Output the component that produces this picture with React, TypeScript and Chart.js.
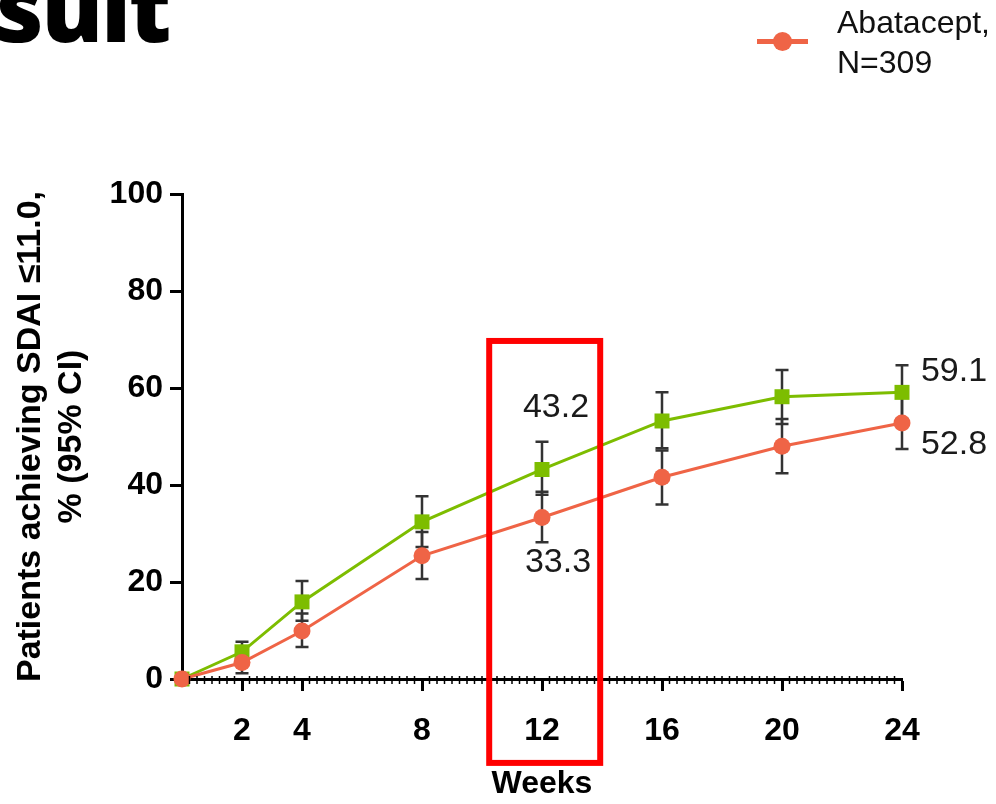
import React, { useEffect, useRef } from 'react';
import { Chart, registerables } from 'chart.js';

Chart.register(...registerables);

// ---------- data ----------
const weeks = [0, 2, 4, 8, 12, 16, 20, 24];

const abataceptPct = [0, 3.4, 9.9, 25.4, 33.3, 41.6, 48.0, 52.8];
const abataceptLow = [0, 1.2, 6.6, 20.6, 28.2, 36.0, 42.4, 47.4];
const abataceptHigh = [0, 5.6, 13.5, 30.3, 38.6, 47.1, 53.6, 58.2];

const comparatorPct = [0, 5.6, 15.9, 32.4, 43.2, 53.2, 58.2, 59.1];
const comparatorLow = [0, 3.5, 12.0, 27.2, 38.0, 47.6, 52.6, 53.6];
const comparatorHigh = [0, 7.7, 20.2, 37.7, 48.9, 59.1, 63.7, 64.7];

const xTickWeeks = [2, 4, 8, 12, 16, 20, 24];
const yTickValues = [0, 20, 40, 60, 80, 100];

const yTitleLines = ['Patients achieving SDAI \u226411.0,', '% (95% CI)'];
const xTitle = 'Weeks';
const legendLines = ['Abatacept,', 'N=309'];
const titleText = 'sult';

// highlighted region (weeks / percent units)
const highlightWeeks = [10.24, 13.94];
const highlightPct = [-17.3, 69.7];

// ---------- style ----------
const FONT = '"Liberation Sans", Arial, Helvetica, sans-serif';
const ORANGE = '#ef6446';
const GREEN = '#7dbd00';
const ERR = '#333333';

const labelSpecs = [
  { ds: 1, idx: 4, dx: 14, dy: -62 },
  { ds: 0, idx: 4, dx: 16, dy: 45 },
  { ds: 1, idx: 7, dx: 52, dy: -21 },
  { ds: 0, idx: 7, dx: 52, dy: 22 },
];

const errorBarPlugin = {
  id: 'errorBars',
  beforeDatasetsDraw(chart: any) {
    const { ctx, scales } = chart;
    const x = scales.x;
    const y = scales.y;
    const cap = 6.5;
    ctx.save();
    ctx.strokeStyle = ERR;
    ctx.lineWidth = 2.5;
    const sets = [
      { low: comparatorLow, high: comparatorHigh },
      { low: abataceptLow, high: abataceptHigh },
    ];
    sets.forEach(({ low, high }) => {
      weeks.forEach((w, i) => {
        if (high[i] === low[i]) return;
        const px = x.getPixelForValue(w);
        const yl = y.getPixelForValue(low[i]);
        const yh = y.getPixelForValue(high[i]);
        ctx.beginPath();
        ctx.moveTo(px, yl);
        ctx.lineTo(px, yh);
        ctx.moveTo(px - cap, yl);
        ctx.lineTo(px + cap, yl);
        ctx.moveTo(px - cap, yh);
        ctx.lineTo(px + cap, yh);
        ctx.stroke();
      });
    });
    ctx.restore();
  },
};

const annotationPlugin = {
  id: 'annotations',
  afterDraw(chart: any) {
    const { ctx, scales, chartArea } = chart;
    const x = scales.x;
    const y = scales.y;
    ctx.save();
    // minor ticks on x axis every quarter week
    ctx.strokeStyle = '#000';
    ctx.lineWidth = 1.5;
    ctx.beginPath();
    for (let q = 1; q < 96; q++) {
      const w = q / 4;
      if (xTickWeeks.includes(w)) continue;
      const px = x.getPixelForValue(w);
      ctx.moveTo(px, chartArea.bottom - 3);
      ctx.lineTo(px, chartArea.bottom + 5);
    }
    ctx.stroke();

    // value labels
    ctx.fillStyle = '#1a1a1a';
    ctx.font = `34px ${FONT}`;
    ctx.textAlign = 'center';
    ctx.textBaseline = 'middle';
    labelSpecs.forEach((s) => {
      const meta = chart.getDatasetMeta(s.ds);
      const pt = meta.data[s.idx];
      const v = chart.data.datasets[s.ds].data[s.idx].y;
      ctx.fillText(v.toFixed(1), pt.x + s.dx, pt.y + s.dy);
    });

    // highlight box
    const x0 = x.getPixelForValue(highlightWeeks[0]);
    const x1 = x.getPixelForValue(highlightWeeks[1]);
    const y0 = y.getPixelForValue(highlightPct[1]);
    const y1 = y.getPixelForValue(highlightPct[0]);
    ctx.strokeStyle = '#ff0000';
    ctx.lineWidth = 6;
    ctx.strokeRect(x0, y0, x1 - x0, y1 - y0);
    ctx.restore();
  },
};

export default function App() {
  const ref = useRef<HTMLCanvasElement>(null);

  useEffect(() => {
    const canvas = ref.current;
    if (!canvas) return;
    const chart = new Chart(canvas, {
      type: 'line',
      data: {
        datasets: [
          {
            label: 'Abatacept, N=309',
            data: weeks.map((w, i) => ({ x: w, y: abataceptPct[i] })),
            borderColor: ORANGE,
            backgroundColor: ORANGE,
            borderWidth: 3,
            pointStyle: 'circle',
            pointRadius: 8.5,
            pointBorderWidth: 0,
            pointBackgroundColor: ORANGE,
            clip: false as any,
          },
          {
            label: 'Comparator',
            data: weeks.map((w, i) => ({ x: w, y: comparatorPct[i] })),
            borderColor: GREEN,
            backgroundColor: GREEN,
            borderWidth: 3,
            pointStyle: 'rect',
            pointRadius: 10.6,
            pointBorderWidth: 0,
            pointBackgroundColor: GREEN,
            clip: false as any,
          },
        ],
      },
      options: {
        responsive: false,
        animation: false,
        devicePixelRatio: 1,
        layout: { padding: { left: 0, top: 194, right: 94, bottom: 0 } },
        plugins: {
          legend: { display: false },
          tooltip: { enabled: false },
        },
        scales: {
          x: {
            type: 'linear',
            min: 0,
            max: 24,
            afterBuildTicks: (axis: any) => {
              axis.ticks = xTickWeeks.map((v) => ({ value: v }));
            },
            afterFit: (axis: any) => {
              axis.height = 125;
            },
            ticks: {
              autoSkip: false,
              maxRotation: 0,
              padding: 21,
              color: '#000',
              font: { family: FONT, size: 32, weight: 'bold', lineHeight: 1.2 },
              callback: (v: any) => String(v),
            },
            grid: {
              display: true,
              drawOnChartArea: false,
              drawTicks: true,
              tickLength: 12,
              tickWidth: 3,
              tickColor: '#000',
            },
            border: { display: true, color: '#000', width: 3 },
            title: {
              display: true,
              text: xTitle,
              color: '#000',
              font: { family: FONT, size: 32, weight: 'bold', lineHeight: 1.2 },
              padding: { top: 0, bottom: 1 },
            },
          },
          y: {
            type: 'linear',
            min: 0,
            max: 100,
            afterBuildTicks: (axis: any) => {
              axis.ticks = yTickValues.map((v) => ({ value: v }));
            },
            afterFit: (axis: any) => {
              axis.width = 182;
            },
            ticks: {
              padding: 7,
              color: '#000',
              font: { family: FONT, size: 32, weight: 'bold', lineHeight: 1.2 },
            },
            grid: {
              display: true,
              drawOnChartArea: false,
              drawTicks: true,
              tickLength: 12,
              tickWidth: 3,
              tickColor: '#000',
            },
            border: { display: true, color: '#000', width: 3 },
            title: {
              display: true,
              text: yTitleLines,
              color: '#000',
              font: { family: FONT, size: 34, weight: 'bold', lineHeight: 1.2 },
              padding: { top: 10.6, bottom: 0 },
            },
          },
        },
      },
      plugins: [errorBarPlugin, annotationPlugin],
    } as any);
    return () => chart.destroy();
  }, []);

  return (
    <div
      style={{
        position: 'fixed',
        left: 0,
        top: 0,
        width: 996,
        height: 804,
        background: '#fff',
        overflow: 'hidden',
      }}
    >
      <canvas
        ref={ref}
        width={996}
        height={804}
        style={{ position: 'absolute', left: 0, top: 0, width: 996, height: 804 }}
      />
      <div
        style={{
          position: 'absolute',
          left: -4,
          top: -38.7,
          fontFamily: '"Open Sans", sans-serif',
          fontWeight: 800,
          fontSize: 92,
          lineHeight: 1,
          color: '#000',
          whiteSpace: 'nowrap',
          letterSpacing: -2,
        }}
      >
        {titleText}
      </div>
      <div
        style={{
          position: 'absolute',
          left: 757,
          top: 38.5,
          width: 51,
          height: 5,
          background: ORANGE,
        }}
      />
      <div
        style={{
          position: 'absolute',
          left: 772.5,
          top: 31.5,
          width: 19,
          height: 19,
          borderRadius: '50%',
          background: ORANGE,
        }}
      />
      <div
        style={{
          position: 'absolute',
          left: 837,
          top: 2,
          fontFamily: FONT,
          fontSize: 32,
          lineHeight: '40px',
          color: '#111',
          whiteSpace: 'nowrap',
        }}
      >
        {legendLines.map((l) => (
          <div key={l}>{l}</div>
        ))}
      </div>
    </div>
  );
}
